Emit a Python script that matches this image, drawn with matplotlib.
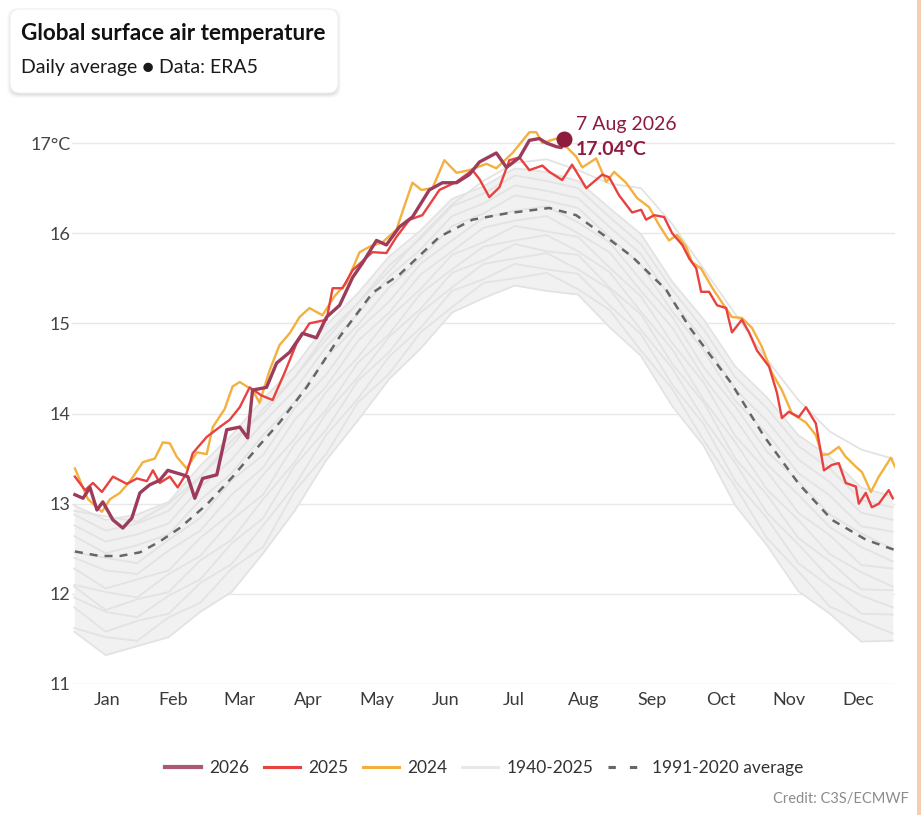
import matplotlib
matplotlib.use('Agg')
import matplotlib.pyplot as plt
from matplotlib.patches import FancyBboxPatch, Rectangle
from matplotlib.lines import Line2D
import numpy as np

plt.rcParams['font.family'] = ['Lato', 'DejaVu Sans']

# ---------------- data ----------------
months = ['Jan', 'Feb', 'Mar', 'Apr', 'May', 'Jun', 'Jul', 'Aug', 'Sep', 'Oct', 'Nov', 'Dec']
month_len = [31, 28, 31, 30, 31, 30, 31, 31, 30, 31, 30, 31]
y_ticks = [11, 12, 13, 14, 15, 16, 17]
y_labels = ['11', '12', '13', '14', '15', '16', '17°C']

# 2026 (to 7 Aug)
days_2026 = [1.3, 4.9, 8.0, 11.1, 13.7, 18.2, 22.6, 26.6, 30.2, 34.6, 39.0, 42.6, 49.3, 51.5, 54.6,
             58.1, 64.4, 68.8, 74.6, 78.1, 80.3, 86.5, 91.0, 96.8, 102.5, 108.7, 113.2, 119.0, 124.8,
             129.2, 135.4, 139.8, 145.6, 151.4, 158.9, 164.7, 171.0, 176.7, 181.2, 188.7, 193.2, 199.0,
             203.4, 207.8, 211.0, 215.4, 217.6, 219.0]
temp_2026 = [13.10, 13.06, 13.18, 12.93, 13.02, 12.82, 12.73, 12.84, 13.12, 13.21, 13.26, 13.37, 13.32,
             13.30, 13.06, 13.28, 13.32, 13.82, 13.85, 13.73, 14.26, 14.29, 14.56, 14.68, 14.89, 14.84,
             15.07, 15.20, 15.51, 15.67, 15.92, 15.87, 16.07, 16.18, 16.48, 16.56, 16.56, 16.65, 16.79,
             16.89, 16.73, 16.84, 17.03, 17.05, 17.00, 16.96, 16.95, 17.04]

# 2025
days_2025 = [1.3, 5.8, 9.3, 13.3, 18.2, 24.4, 28.9, 33.3, 36.0, 39.0, 43.5, 47.0, 51.0, 53.7, 59.9,
             65.7, 70.1, 74.6, 79.0, 84.3, 89.2, 94.5, 99.9, 105.6, 113.2, 115.9, 120.3, 124.8, 133.6,
             139.8, 144.3, 150.1, 155.8, 163.4, 171.0, 178.1, 181.2, 185.6, 190.1, 194.5, 199.0, 203.4,
             209.2, 212.3, 218.0, 222.4, 228.7, 235.8, 238.9, 243.3, 249.1, 253.1, 255.3, 258.9, 263.3,
             266.9, 271.4, 274.5, 277.6, 279.8, 283.3, 286.9, 290.9, 293.5, 297.9, 301.1, 304.6, 310.0,
             313.5, 315.7, 318.8, 323.2, 326.4, 330.8, 334.4, 337.9, 341.0, 344.1, 348.6, 349.9, 353.0,
             355.7, 358.8, 363.2, 365.0]
temp_2025 = [13.30, 13.15, 13.23, 13.13, 13.30, 13.22, 13.28, 13.25, 13.37, 13.23, 13.30, 13.18, 13.34,
             13.56, 13.74, 13.85, 13.93, 14.07, 14.29, 14.20, 14.15, 14.45, 14.78, 15.00, 15.04, 15.39,
             15.39, 15.59, 15.79, 15.78, 15.96, 16.15, 16.20, 16.48, 16.57, 16.70, 16.60, 16.40, 16.51,
             16.81, 16.84, 16.70, 16.75, 16.68, 16.59, 16.76, 16.50, 16.65, 16.62, 16.42, 16.23, 16.26,
             16.15, 16.20, 16.18, 16.00, 15.87, 15.72, 15.61, 15.35, 15.35, 15.20, 15.17, 14.90, 15.04,
             14.90, 14.70, 14.52, 14.23, 13.95, 14.02, 13.96, 14.07, 13.89, 13.37, 13.43, 13.45, 13.23,
             13.19, 13.00, 13.12, 12.96, 13.00, 13.15, 13.06]

# 2024
days_2024 = [1.3, 7.1, 13.3, 16.9, 21.3, 25.8, 31.5, 36.8, 40.4, 43.5, 46.6, 51.0, 55.5, 59.9, 62.6,
             67.9, 71.4, 74.6, 80.3, 83.4, 87.9, 92.3, 96.8, 101.2, 105.6, 111.4, 116.7, 122.1, 127.9,
             132.3, 138.1, 144.3, 147.8, 151.4, 155.4, 160.3, 165.6, 171.0, 176.7, 184.3, 188.7, 195.9,
             203.4, 206.5, 209.2, 215.4, 219.8, 224.2, 226.9, 233.1, 237.6, 241.1, 246.4, 251.3, 256.6,
             261.1, 265.5, 269.1, 273.1, 275.7, 279.7, 284.6, 289.1, 293.5, 297.9, 302.4, 306.8, 311.3,
             315.7, 320.2, 326.4, 330.8, 333.5, 336.6, 341.0, 344.1, 348.6, 351.3, 355.3, 358.8, 364.2,
             366.0]
temp_2024 = [13.39, 13.05, 12.91, 13.05, 13.12, 13.25, 13.46, 13.50, 13.68, 13.67, 13.52, 13.39, 13.57,
             13.55, 13.85, 14.05, 14.30, 14.35, 14.26, 14.12, 14.48, 14.76, 14.89, 15.07, 15.17, 15.09,
             15.30, 15.45, 15.79, 15.85, 15.90, 16.04, 16.30, 16.56, 16.48, 16.50, 16.81, 16.67, 16.70,
             16.77, 16.72, 16.89, 17.12, 17.12, 17.00, 17.05, 16.96, 16.85, 16.73, 16.83, 16.57, 16.68,
             16.56, 16.39, 16.29, 16.09, 15.92, 15.98, 15.85, 15.68, 15.61, 15.40, 15.23, 15.07, 15.06,
             14.95, 14.74, 14.45, 14.26, 14.00, 13.90, 13.76, 13.54, 13.55, 13.63, 13.52, 13.41, 13.35,
             13.13, 13.30, 13.51, 13.41]

# 1991-2020 average
days_avg = [1.3, 12.4, 21.3, 30.2, 39.0, 47.9, 59.9, 71.5, 83.4, 92.3, 104.3, 119.0, 133.7, 145.6,
            163.4, 178.1, 193.2, 212.3, 224.2, 237.5, 249.1, 264.3, 274.5, 293.1, 307.7, 323.2, 338.0,
            353.1, 365.5]
temp_avg = [12.47, 12.42, 12.42, 12.46, 12.58, 12.73, 12.99, 13.30, 13.65, 13.90, 14.29, 14.85, 15.34,
            15.54, 15.96, 16.15, 16.22, 16.28, 16.20, 15.96, 15.74, 15.37, 14.96, 14.34, 13.75, 13.22,
            12.82, 12.60, 12.49]

# 1940-2025 (representative years, sampled every 14 days)
days_hist = [1, 15, 29, 43, 57, 71, 85, 99, 113, 127, 141, 155, 169, 183, 197, 211, 225, 239, 253,
             267, 281, 295, 309, 323, 337, 351, 365]
hist_a = [11.58, 11.32, 11.42, 11.52, 11.80, 12.02, 12.45, 12.92, 13.48, 13.92, 14.38, 14.72, 15.12, 15.28,
          15.42, 15.36, 15.32, 14.96, 14.64, 14.08, 13.64, 12.98, 12.54, 12.03, 11.78, 11.47, 11.48]
hist_b = [11.62, 11.52, 11.48, 11.74, 11.90, 12.28, 12.52, 13.14, 13.55, 14.12, 14.44, 14.90, 15.18, 15.45,
          15.50, 15.56, 15.38, 15.15, 14.70, 14.27, 13.70, 13.19, 12.62, 12.25, 11.86, 11.70, 11.56]
hist_c = [11.85, 11.58, 11.70, 11.78, 12.12, 12.33, 12.76, 13.20, 13.76, 14.16, 14.63, 14.95, 15.36, 15.49,
          15.66, 15.60, 15.55, 15.20, 14.88, 14.32, 13.88, 13.25, 12.84, 12.34, 12.08, 11.78, 11.77]
hist_d = [11.96, 11.80, 11.74, 11.98, 12.16, 12.56, 12.84, 13.42, 13.82, 14.36, 14.68, 15.12, 15.40, 15.66,
          15.72, 15.78, 15.60, 15.38, 14.93, 14.50, 13.94, 13.45, 12.90, 12.55, 12.17, 11.98, 11.85]
hist_e = [12.08, 11.82, 11.94, 12.02, 12.37, 12.60, 13.05, 13.46, 14.00, 14.40, 14.85, 15.16, 15.56, 15.70,
          15.88, 15.80, 15.76, 15.40, 15.10, 14.55, 14.12, 13.50, 13.10, 12.62, 12.36, 12.05, 12.04]
hist_f = [12.10, 12.02, 11.96, 12.22, 12.42, 12.82, 13.10, 13.66, 14.04, 14.56, 14.88, 15.33, 15.60, 15.85,
          15.92, 15.98, 15.80, 15.57, 15.13, 14.71, 14.15, 13.68, 13.16, 12.82, 12.44, 12.24, 12.08]
hist_g = [12.28, 12.06, 12.16, 12.26, 12.62, 12.90, 13.32, 13.72, 14.24, 14.62, 15.06, 15.38, 15.76, 15.90,
          16.08, 16.02, 15.96, 15.62, 15.30, 14.78, 14.34, 13.75, 13.36, 12.90, 12.65, 12.32, 12.28]
hist_h = [12.40, 12.26, 12.22, 12.48, 12.70, 13.10, 13.40, 13.93, 14.30, 14.80, 15.12, 15.54, 15.80, 16.06,
          16.14, 16.19, 16.00, 15.79, 15.36, 14.95, 14.40, 13.94, 13.44, 13.10, 12.74, 12.52, 12.36]
hist_i = [12.46, 12.40, 12.34, 12.60, 12.84, 13.26, 13.54, 14.06, 14.43, 14.92, 15.24, 15.66, 15.92, 16.17,
          16.25, 16.30, 16.12, 15.90, 15.48, 15.07, 14.51, 14.08, 13.58, 13.25, 12.88, 12.67, 12.50]
hist_j = [12.64, 12.45, 12.54, 12.66, 13.04, 13.34, 13.76, 14.13, 14.62, 14.98, 15.40, 15.72, 16.08, 16.22,
          16.42, 16.36, 16.28, 15.96, 15.65, 15.13, 14.70, 14.14, 13.78, 13.34, 13.09, 12.75, 12.69]
hist_k = [12.76, 12.58, 12.66, 12.78, 13.18, 13.49, 13.90, 14.26, 14.74, 15.10, 15.52, 15.82, 16.19, 16.33,
          16.53, 16.47, 16.39, 16.07, 15.77, 15.25, 14.81, 14.27, 13.92, 13.49, 13.24, 12.90, 12.82]
hist_l = [12.88, 12.70, 12.78, 12.92, 13.30, 13.64, 14.05, 14.40, 14.88, 15.22, 15.64, 15.94, 16.30, 16.44,
          16.64, 16.58, 16.50, 16.18, 15.88, 15.37, 14.93, 14.40, 14.06, 13.64, 13.39, 13.04, 12.96]
hist_m = [12.98, 12.82, 12.88, 13.02, 13.42, 13.76, 14.16, 14.52, 14.98, 15.33, 15.74, 16.03, 16.38, 16.52,
          16.72, 16.68, 16.58, 16.28, 15.99, 15.46, 15.04, 14.52, 14.18, 13.76, 13.52, 13.18, 13.08]
hist_n = [12.92, 12.86, 12.80, 13.00, 13.30, 13.70, 14.00, 14.40, 14.82, 15.22, 15.58, 15.96, 16.32, 16.58,
          16.78, 16.82, 16.70, 16.55, 16.50, 16.10, 15.60, 15.10, 14.60, 14.15, 13.80, 13.60, 13.50]
hist_years = [hist_a, hist_b, hist_c, hist_d, hist_e, hist_f, hist_g, hist_h, hist_i, hist_j, hist_k,
              hist_l, hist_m, hist_n]

last_label_date = '7 Aug 2026'
last_value = 17.04

# ---------------- style ----------------
c2026 = '#9c3b5a'
c2025 = '#e8413f'
c2024 = '#f4b03e'
cgray = '#e3e3e3'
cavg = '#666666'
cannot = '#8e1b3e'

W, H = 921, 815
fig = plt.figure(figsize=(W / 100, H / 100), dpi=100)
fig.patch.set_facecolor('white')

# overlay in pixel units for card / frame
ov = fig.add_axes([0, 0, 1, 1], zorder=0)
ov.set_xlim(0, W)
ov.set_ylim(H, 0)
ov.axis('off')

# card shadow
for k, a in [(4, 0.018), (3, 0.025), (2, 0.035), (1, 0.05)]:
    ov.add_patch(FancyBboxPatch((10 - k + 1, 10 - k + 2), 328 + 2 * k - 2, 84 + 2 * k - 2,
                                boxstyle='round,pad=0,rounding_size=10',
                                facecolor='black', edgecolor='none', alpha=a))
ov.add_patch(FancyBboxPatch((10, 9), 328, 84, boxstyle='round,pad=0,rounding_size=10',
                            facecolor='white', edgecolor='#f0f0f0', lw=0.8))
ov.text(21, 34, 'Global surface air temperature', fontsize=16.2, fontweight='bold',
        color='#111111', ha='left', va='center')
ov.text(21, 68, 'Daily average ● Data: ERA5', fontsize=14, color='#1a1a1a',
        ha='left', va='center', family=['Lato', 'DejaVu Sans'])
# right frame strip
ov.add_patch(Rectangle((917, 0), 4, H, facecolor='#f5cdb3', edgecolor='none'))

# credit
ov.text(909, 799, 'Credit: C3S/ECMWF', fontsize=10.5, color='#8c8c8c', ha='right', va='center')

# ---------------- main axes ----------------
ax = fig.add_axes([72 / W, (H - 684) / H, 823 / W, (684 - 107) / H], zorder=1)
ax.patch.set_alpha(0)
ax.set_xlim(0, 366)
ax.set_ylim(11, 17.4)
for s in ax.spines.values():
    s.set_visible(False)

cum = np.cumsum([0] + month_len)
mids = [(cum[i] + cum[i + 1]) / 2 for i in range(12)]
ax.set_xticks(mids)
ax.set_xticklabels(months, fontsize=13, color='#3a3a3a')
ax.set_yticks(y_ticks)
ax.set_yticklabels(y_labels, fontsize=13, color='#444444')
ax.tick_params(axis='both', length=0)
ax.tick_params(axis='x', pad=6)
ax.tick_params(axis='y', pad=1)
ax.yaxis.grid(True, color='#e8e8e8', lw=1)
ax.set_axisbelow(True)

hist_arr = np.array(hist_years)
core = np.array(hist_years[:-1])
ax.fill_between(days_hist, hist_arr.min(axis=0), core.max(axis=0), color='#f1f1f1', lw=0, zorder=1)
for h in hist_years:
    ax.plot(days_hist, h, color=cgray, lw=1.3, zorder=2)

ax.plot(days_avg, temp_avg, color=cavg, lw=1.8, dashes=(3.2, 2.8), zorder=3)
ax.plot(days_2024, temp_2024, color=c2024, lw=1.7, zorder=4)
ax.plot(days_2025, temp_2025, color=c2025, lw=1.7, zorder=5)
ax.plot(days_2026, temp_2026, color=c2026, lw=2.4, zorder=6)
ax.plot([days_2026[-1]], [temp_2026[-1]], 'o', color=cannot, ms=10.5, zorder=7)

ax.annotate(last_label_date, (days_2026[-1], temp_2026[-1]), xytext=(8, 11),
            textcoords='offset points', fontsize=14, color=cannot, ha='left', va='center', zorder=8)
ax.annotate(f'{last_value:.2f}°C', (days_2026[-1], temp_2026[-1]), xytext=(8, -7),
            textcoords='offset points', fontsize=14, fontweight='bold', color=cannot,
            ha='left', va='center', zorder=8)

# legend
handles = [Line2D([], [], color=c2026, lw=3, alpha=0.85),
           Line2D([], [], color=c2025, lw=2.2),
           Line2D([], [], color=c2024, lw=2.2),
           Line2D([], [], color='#e8e8e8', lw=2.2),
           Line2D([], [], color=cavg, lw=2.2, dashes=(2.4, 4.6))]
labels = ['2026', '2025', '2024', '1940-2025', '1991-2020 average']
leg = fig.legend(handles, labels, loc='center', bbox_to_anchor=(484 / W, (H - 768) / H),
                 ncol=5, frameon=False, fontsize=12.5, handlelength=2.1, handletextpad=0.45,
                 columnspacing=0.85)
for t in leg.get_texts():
    t.set_color('#333333')

fig.savefig('out.png', dpi=100, facecolor='white')
